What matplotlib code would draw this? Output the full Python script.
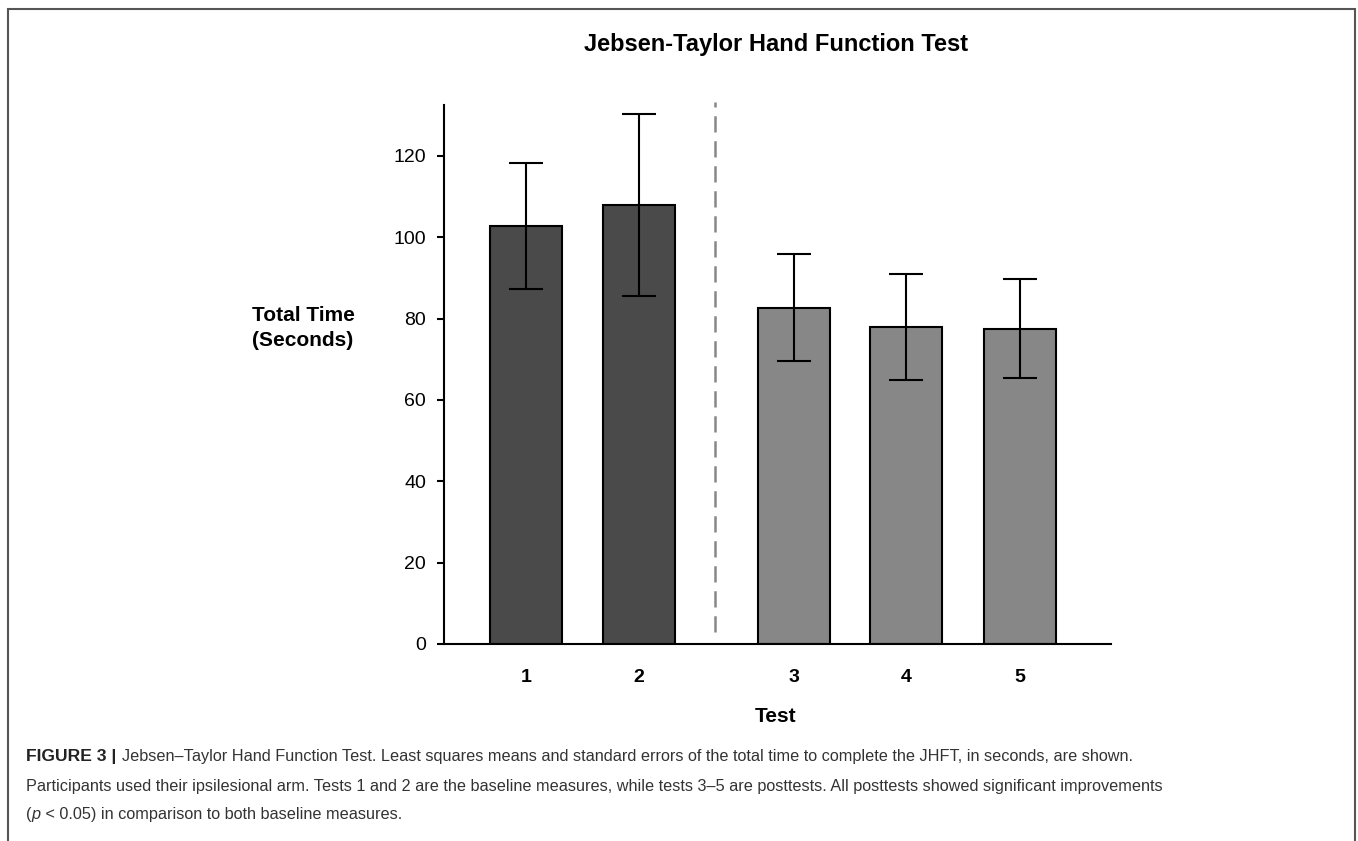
import matplotlib
matplotlib.use("Agg")
import matplotlib.pyplot as plt
from matplotlib.patches import Rectangle

# values
tests = ["1", "2", "3", "4", "5"]
positions = [1, 2, 3.37, 4.36, 5.37]
means = [102.8, 107.9, 82.7, 77.9, 77.5]
std_errors = [15.5, 22.35, 13.15, 13.0, 12.15]
bar_colors = ["#4a4a4a", "#4a4a4a", "#878787", "#878787", "#878787"]
y_ticks = [0, 20, 40, 60, 80, 100, 120]
divider_x = 2.67

title = "Jebsen-Taylor Hand Function Test"
# caption pieces: (text, weight, style), one list per line
caption_lines = [
    [("FIGURE 3 |", "bold", "normal"),
     ("Jebsen\u2013Taylor Hand Function Test. Least squares means and standard errors of the total time to complete the JHFT, in seconds, are shown.", "normal", "normal")],
    [("Participants used their ipsilesional arm. Tests 1 and 2 are the baseline measures, while tests 3\u20135 are posttests. All posttests showed significant improvements", "normal", "normal")],
    [("(", "normal", "normal"), ("p", "normal", "italic"),
     (" < 0.05) in comparison to both baseline measures.", "normal", "normal")],
]
caption_y = [757, 786, 814]

plt.rcParams["font.family"] = ["Liberation Sans", "DejaVu Sans"]

W, H = 1358, 841
fig = plt.figure(figsize=(W / 100, H / 100), dpi=100)

# outer frame
fig.patches.append(Rectangle((8 / W, -0.05), (1355 - 8) / W, 1 - 9 / H + 0.05,
                             transform=fig.transFigure, fill=False,
                             edgecolor="#555555", linewidth=1.5, clip_on=False))

ax = fig.add_axes([444 / W, 1 - 644 / H, (1111 - 444) / W, (644 - 105) / H])
ax.bar(positions, means, width=0.64, color=bar_colors, edgecolor="black",
       linewidth=1.5, zorder=2)
ax.errorbar(positions, means, yerr=std_errors, fmt="none", ecolor="black",
            elinewidth=1.5, capsize=12, capthick=1.5, zorder=3)
ax.vlines(divider_x, 3, 133.3, colors="#888888", linewidth=1.8,
          linestyles=(0, (6.5, 3.5)), clip_on=False, zorder=1)

ax.set_xlim(0.274, 6.177)
ax.set_ylim(0, 132.5)
ax.set_yticks(y_ticks)
ax.set_xticks(positions)
ax.set_xticklabels(tests, fontweight="bold")
ax.tick_params(axis="y", length=5, width=1.5, pad=8, labelsize=14)
ax.tick_params(axis="x", length=0, pad=18, labelsize=14)
for side in ["top", "right"]:
    ax.spines[side].set_visible(False)
for side in ["left", "bottom"]:
    ax.spines[side].set_linewidth(1.5)

fig.text(776 / W, 1 - 45 / H, title, ha="center", va="center",
         fontsize=17, fontweight="bold")
fig.text(303 / W, 1 - 328 / H, "Total Time\n(Seconds)", ha="center",
         va="center", fontsize=15, fontweight="bold", linespacing=1.45)
fig.text(776 / W, 1 - 717 / H, "Test", ha="center", va="center",
         fontsize=15, fontweight="bold")

# caption, written piece by piece so bold/italic runs sit inline
renderer = fig.canvas.get_renderer()
for pieces, y in zip(caption_lines, caption_y):
    x = 26
    for text, weight, style in pieces:
        t = fig.text(x / W, 1 - y / H, text, ha="left", va="center",
                     fontsize=12.6 if weight == "bold" else 11.7,
                     fontweight=weight, fontstyle=style,
                     color="#222222" if weight == "bold" else "#333333")
        x = t.get_window_extent(renderer).x1
        if weight == "bold":
            x += 6

fig.savefig("out.png", dpi=100)
